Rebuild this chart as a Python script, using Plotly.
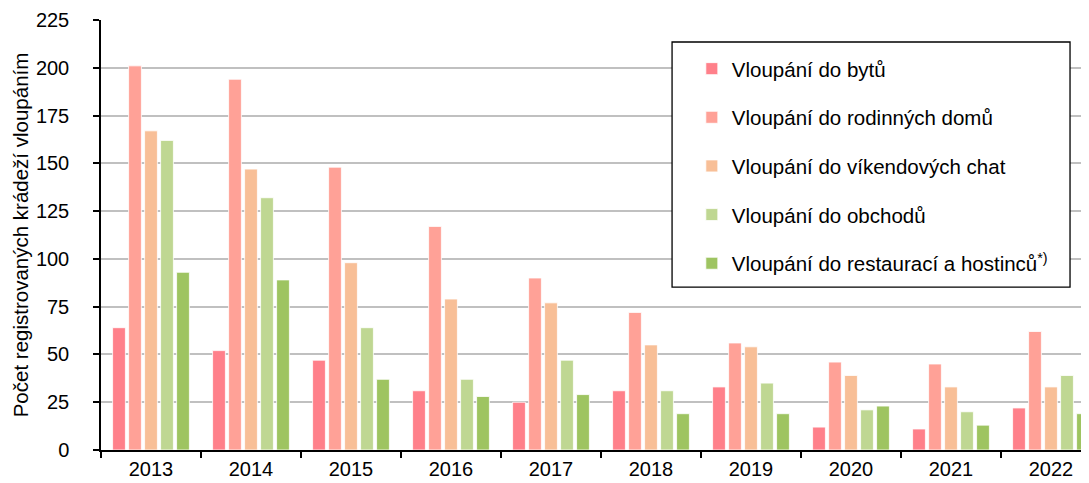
import plotly.graph_objects as go

years = ["2013", "2014", "2015", "2016", "2017", "2018", "2019", "2020", "2021", "2022"]
byty = [64, 52, 47, 31, 25, 31, 33, 12, 11, 22]
rodinne_domy = [201, 194, 148, 117, 90, 72, 56, 46, 45, 62]
chaty = [167, 147, 98, 79, 77, 55, 54, 39, 33, 33]
obchody = [162, 132, 64, 37, 47, 31, 35, 21, 20, 39]
restaurace = [93, 89, 37, 28, 29, 19, 19, 23, 13, 19]

series = [
    ("Vloupání do bytů", byty, "#FF808A"),
    ("Vloupání do rodinných domů", rodinne_domy, "#FFA197"),
    ("Vloupání do víkendových chat", chaty, "#F8BF97"),
    ("Vloupání do obchodů", obchody, "#BFD792"),
    ("Vloupání do restaurací a hostinců<sup>*)</sup>", restaurace, "#9EC461"),
]

fig = go.Figure()
for i, (name, vals, col) in enumerate(series):
    fig.add_trace(go.Bar(
        x=years, y=vals, name=name, legendgroup=str(i),
        marker=dict(color=col, line=dict(color="rgba(255,255,255,0.8)", width=1)),
    ))

font = "Liberation Sans, Arial, sans-serif"
fig.update_layout(
    width=1081, height=475,
    margin=dict(l=93, r=0, t=12, b=33),
    paper_bgcolor="white", plot_bgcolor="white",
    barmode="group", bargap=0.2, bargroupgap=0.2,
    font=dict(family=font, size=20, color="black"),
    showlegend=True,
    legend=dict(
        x=0.598, y=0.933, xanchor="left", yanchor="top",
        borderwidth=0, bgcolor="rgba(0,0,0,0)",
        font=dict(size=20.5), tracegroupgap=19,
        itemwidth=30,
    ),
    shapes=[dict(
        type="rect", xref="paper", yref="paper",
        x0=0.578, x1=0.9808, y0=0.379, y1=0.9488,
        line=dict(color="black", width=1.3), fillcolor="white", layer="above",
    )],
    xaxis=dict(
        type="category", range=[-0.5, 9.38], automargin=False,
        showline=True, linecolor="black", linewidth=1.5,
        ticks="outside", tickson="boundaries", ticklen=6, tickcolor="black", tickwidth=1.5,
        tickfont=dict(size=20), showgrid=False,
    ),
    yaxis=dict(
        range=[0, 225], tickvals=[0, 25, 50, 75, 100, 125, 150, 175, 200, 225],
        automargin=False,
        showline=True, linecolor="black", linewidth=1.5,
        ticks="outside", ticklen=6, tickcolor="black", tickwidth=1.5,
        ticklabelstandoff=20,
        showgrid=True, gridcolor="#C0C0C0", gridwidth=1.5,
        tickfont=dict(size=20),
        title=dict(text="Počet registrovaných krádeží vloupáním", font=dict(size=20.5), standoff=2),
        zeroline=False,
    ),
)

fig.write_html("out.html")
